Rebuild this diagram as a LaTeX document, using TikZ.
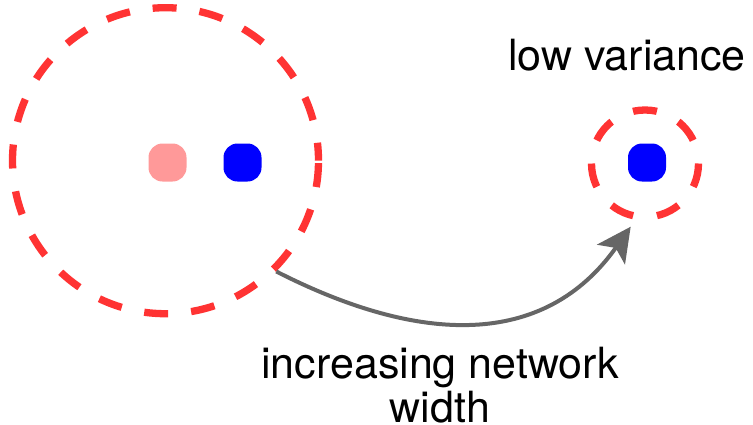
\documentclass[tikz,border=0pt]{standalone}
\usepackage{fontspec}
\setmainfont{TeX Gyre Heros}
\usetikzlibrary{arrows.meta,calc}

\definecolor{ringred}{HTML}{FF3333}
\definecolor{dotpink}{HTML}{FF9999}
\definecolor{dotblue}{HTML}{0000FF}
\definecolor{arrowgray}{HTML}{666666}

\tikzset{
  ring/.style={circle, draw=ringred, line width=7.3pt, inner sep=0pt},
  dot/.style={rectangle, rounded corners=14pt, minimum size=38pt, inner sep=0pt},
  label text/.style={font=\fontsize{43}{44}\selectfont, inner sep=0pt},
  widen/.style={draw=arrowgray, line width=4pt,
    -{Stealth[length=34pt,width=34pt,inset=8pt]}}
}

\begin{document}
\begin{tikzpicture}[x=1pt,y=-1pt]
  \path[use as bounding box] (0,0) rectangle (753,424);

  % wide spread of samples
  \node[ring, minimum size=306pt, dash pattern=on 24pt off 23.05pt, dash phase=6pt]
    (wide) at (165.5,160.7) {};
  \node[dot, fill=dotpink] (pinkdot) at (167.5,162.5) {};
  \node[dot, fill=dotblue] (bluedot) at (242.5,162.5) {};

  % narrow spread of samples
  \node[ring, minimum size=107pt, dash pattern=on 24pt off 24.02pt, dash phase=24pt]
    (narrow) at (645,163.5) {};
  \node[dot, fill=dotblue] (narrowdot) at (647,162.5) {};

  \node[label text, anchor=base] (lowvar) at (627,70.7) {low variance};

  % transition arrow
  \coordinate (arrowend) at ($(narrow.center)+(-14.3,63.2)$);
  \draw[widen] (wide.-45) .. controls +(143,73) and +(-86.7,122.4) .. (arrowend);

  % the base anchor of a two-line node sits on its last line
  \node[label text, align=center, anchor=base] (caption) at (440,422)
    {increasing network\\width};
\end{tikzpicture}
\end{document}
